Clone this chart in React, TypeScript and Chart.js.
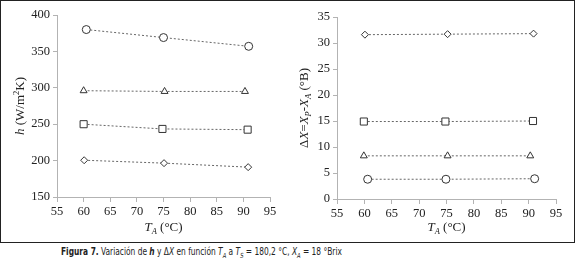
import React, { useEffect, useRef } from "react";
import { Chart, registerables } from "chart.js";

Chart.register(...registerables);

// ---- Data (left panel: h vs T_A) ----
const hCircleX = [60.5, 75, 91];
const hCircleY = [380, 369, 357];
const hTriangleX = [60, 75.2, 90.3];
const hTriangleY = [296, 295, 295];
const hSquareX = [60, 74.8, 90.8];
const hSquareY = [250, 243.5, 242.5];
const hDiamondX = [60.1, 75.1, 90.9];
const hDiamondY = [200.5, 196.5, 191];

// ---- Data (right panel: ΔX vs T_A) ----
const dxDiamondX = [60.1, 75.2, 90.9];
const dxDiamondY = [31.6, 31.7, 31.8];
const dxSquareX = [59.9, 74.8, 90.8];
const dxSquareY = [14.9, 14.9, 15.0];
const dxTriangleX = [59.9, 75.2, 90.3];
const dxTriangleY = [8.3, 8.3, 8.3];
const dxCircleX = [60.6, 74.9, 91.1];
const dxCircleY = [3.8, 3.8, 3.9];

const xTicks = { min: 55, max: 95, step: 5 };
const hTicks = { min: 150, max: 400, step: 50 };
const dxTicks = { min: 0, max: 35, step: 5 };

const SERIF = "'Liberation Serif', 'Times New Roman', serif";

type Seg = { t: string; it?: boolean; sub?: boolean; sup?: boolean };

function drawRich(ctx: CanvasRenderingContext2D, segs: Seg[], x: number, y: number, rotate: boolean, size: number) {
  ctx.save();
  ctx.translate(x, y);
  if (rotate) ctx.rotate(-Math.PI / 2);
  const fontFor = (s: Seg) => {
    const sz = s.sub || s.sup ? size * 0.65 : size;
    return `${s.it ? "italic " : ""}${sz}px ${SERIF}`;
  };
  let total = 0;
  const widths = segs.map((s) => {
    ctx.font = fontFor(s);
    const w = ctx.measureText(s.t).width;
    total += w;
    return w;
  });
  let cx = -total / 2;
  ctx.fillStyle = "#222";
  ctx.textBaseline = "middle";
  ctx.textAlign = "left";
  segs.forEach((s, i) => {
    ctx.font = fontFor(s);
    const dy = s.sub ? size * 0.3 : s.sup ? -size * 0.35 : 0;
    ctx.fillText(s.t, cx, dy);
    cx += widths[i];
  });
  ctx.restore();
}

function mkSeries(xs: number[], ys: number[], style: string, radius: number) {
  return {
    data: xs.map((x, i) => ({ x, y: ys[i] })),
    showLine: true,
    borderColor: "#666",
    borderWidth: 1,
    borderDash: [2, 2],
    pointStyle: style,
    pointRadius: radius,
    pointBorderColor: "#333",
    pointBackgroundColor: "#fff",
    pointBorderWidth: 1,
  };
}

type PanelCfg = {
  datasets: any[];
  yRange: { min: number; max: number; step: number };
  yWidth: number;
  xHeight: number;
  padTop: number;
  padRight: number;
  yTitle: Seg[];
  yTitleX: number;
  xTitleY: number;
};

function Panel({ cfg, width, height }: { cfg: PanelCfg; width: number; height: number }) {
  const ref = useRef<HTMLCanvasElement>(null);
  useEffect(() => {
    if (!ref.current) return;
    const titlePlugin = {
      id: "richTitles",
      afterDraw(chart: any) {
        const ctx = chart.ctx;
        const a = chart.chartArea;
        drawRich(ctx, cfg.yTitle, cfg.yTitleX, (a.top + a.bottom) / 2, true, 13);
        drawRich(
          ctx,
          [{ t: "T", it: true }, { t: "A", it: true, sub: true }, { t: " (°C)" }],
          (a.left + a.right) / 2,
          cfg.xTitleY,
          false,
          13
        );
      },
    };
    const axisColor = "#b3b3b3";
    const chart = new Chart(ref.current, {
      type: "scatter",
      data: { datasets: cfg.datasets },
      options: {
        animation: false,
        responsive: false,
        devicePixelRatio: 1,
        layout: { padding: { left: 0, top: cfg.padTop, right: cfg.padRight, bottom: 0 } },
        plugins: { legend: { display: false }, tooltip: { enabled: false } },
        scales: {
          x: {
            type: "linear",
            min: xTicks.min,
            max: xTicks.max,
            ticks: { stepSize: xTicks.step, color: "#222", font: { family: SERIF, size: 12.5 }, padding: 2 },
            grid: { drawOnChartArea: false, drawTicks: true, tickLength: 5, color: axisColor },
            border: { color: axisColor },
            afterFit(s: any) {
              s.height = cfg.xHeight;
            },
          },
          y: {
            min: cfg.yRange.min,
            max: cfg.yRange.max,
            ticks: { stepSize: cfg.yRange.step, color: "#222", font: { family: SERIF, size: 12.5 }, padding: 3 },
            grid: { drawOnChartArea: false, drawTicks: true, tickLength: 4, color: axisColor },
            border: { color: axisColor },
            afterFit(s: any) {
              s.width = cfg.yWidth;
            },
          },
        },
      } as any,
      plugins: [titlePlugin],
    });
    return () => chart.destroy();
  }, []);
  return <canvas ref={ref} width={width} height={height} style={{ display: "block", width, height }} />;
}

const leftCfg: PanelCfg = {
  datasets: [
    mkSeries(hCircleX, hCircleY, "circle", 4),
    mkSeries(hTriangleX, hTriangleY, "triangle", 4),
    mkSeries(hSquareX, hSquareY, "rect", 5),
    mkSeries(hDiamondX, hDiamondY, "rectRot", 3.5),
  ],
  yRange: hTicks,
  yWidth: 56,
  xHeight: 45,
  padTop: 14,
  padRight: 17,
  yTitle: [{ t: "h", it: true }, { t: " (W/m" }, { t: "2", sup: true }, { t: "K)" }],
  yTitleX: 20,
  xTitleY: 227,
};

const rightCfg: PanelCfg = {
  datasets: [
    mkSeries(dxDiamondX, dxDiamondY, "rectRot", 3.5),
    mkSeries(dxSquareX, dxSquareY, "rect", 5),
    mkSeries(dxTriangleX, dxTriangleY, "triangle", 4),
    mkSeries(dxCircleX, dxCircleY, "circle", 4),
  ],
  yRange: dxTicks,
  yWidth: 50,
  xHeight: 43,
  padTop: 16,
  padRight: 18,
  yTitle: [
    { t: "Δ" },
    { t: "X", it: true },
    { t: "=" },
    { t: "X", it: true },
    { t: "P", it: true, sub: true },
    { t: "-" },
    { t: "X", it: true },
    { t: "A", it: true, sub: true },
    { t: " (°B)" },
  ],
  yTitleX: 18,
  xTitleY: 227,
};

const CAP = "'Liberation Sans Narrow', 'DejaVu Sans Condensed', 'Open Sans', sans-serif";

export default function App() {
  useEffect(() => {
    document.body.style.margin = "0";
  }, []);
  return (
    <div style={{ position: "relative", width: 575, height: 266, background: "#fff" }}>
      <div
        style={{
          position: "absolute",
          left: 0,
          top: 0,
          width: 575,
          height: 243,
          border: "1px solid #222",
          boxSizing: "border-box",
          display: "flex",
        }}
      >
        <Panel cfg={leftCfg} width={286} height={241} />
        <Panel cfg={rightCfg} width={287} height={241} />
      </div>
      <div
        style={{
          position: "absolute",
          left: 61,
          top: 246,
          fontFamily: CAP,
          fontStretch: "condensed",
          fontSize: 10,
          color: "#222",
          whiteSpace: "nowrap",
          lineHeight: "12px",
          transform: "scaleX(0.83)",
          transformOrigin: "left top",
        }}
      >
        <b>Figura 7.</b> Variación de <b><i>h</i></b> y Δ<i>X</i> en función <i>T</i>
        <sub style={{ fontSize: 7 }}><i>A</i></sub> a <i>T</i>
        <sub style={{ fontSize: 7 }}><i>S</i></sub> = 180,2 °C, <i>X</i>
        <sub style={{ fontSize: 7 }}><i>A</i></sub> = 18 °Brix
      </div>
    </div>
  );
}
